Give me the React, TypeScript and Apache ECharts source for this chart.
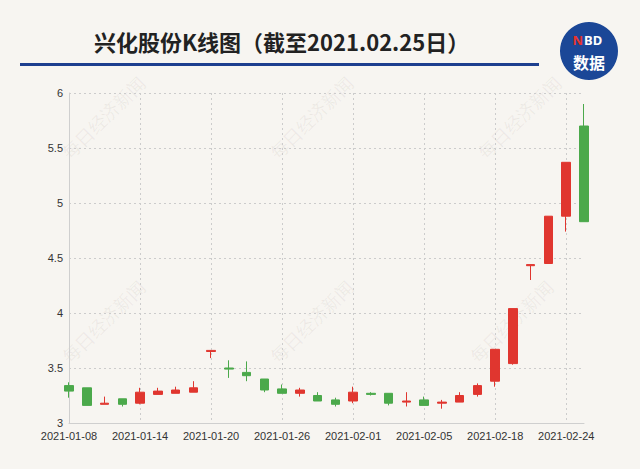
import React, { useEffect, useRef } from "react";
import * as echarts from "echarts";

const dates = [
  "2021-01-08", "2021-01-11", "2021-01-12", "2021-01-13", "2021-01-14", "2021-01-15",
  "2021-01-18", "2021-01-19", "2021-01-20", "2021-01-21", "2021-01-22", "2021-01-25",
  "2021-01-26", "2021-01-27", "2021-01-28", "2021-01-29", "2021-02-01", "2021-02-02",
  "2021-02-03", "2021-02-04", "2021-02-05", "2021-02-08", "2021-02-09", "2021-02-10",
  "2021-02-18", "2021-02-19", "2021-02-22", "2021-02-23", "2021-02-24", "2021-02-25",
];
const openValues = [3.34, 3.32, 3.17, 3.22, 3.18, 3.26, 3.27, 3.28, 3.65, 3.5, 3.46, 3.4, 3.31, 3.27, 3.25, 3.21, 3.2, 3.27, 3.27, 3.19, 3.21, 3.18, 3.19, 3.26, 3.38, 3.54, 4.43, 4.45, 4.88, 5.7];
const closeValues = [3.29, 3.16, 3.18, 3.17, 3.28, 3.29, 3.3, 3.32, 3.66, 3.49, 3.43, 3.3, 3.27, 3.3, 3.2, 3.17, 3.28, 3.26, 3.18, 3.2, 3.16, 3.19, 3.25, 3.34, 3.67, 4.04, 4.44, 4.88, 5.37, 4.83];
const lowValues = [3.23, 3.16, 3.17, 3.15, 3.17, 3.26, 3.27, 3.28, 3.59, 3.41, 3.38, 3.28, 3.27, 3.24, 3.2, 3.15, 3.18, 3.25, 3.16, 3.15, 3.16, 3.13, 3.19, 3.24, 3.33, 3.53, 4.3, 4.45, 4.74, 4.83];
const highValues = [3.37, 3.32, 3.24, 3.22, 3.32, 3.32, 3.33, 3.38, 3.66, 3.57, 3.56, 3.4, 3.35, 3.32, 3.28, 3.23, 3.33, 3.28, 3.27, 3.28, 3.24, 3.21, 3.28, 3.36, 3.67, 4.04, 4.44, 4.88, 5.37, 5.9];

const titleText = "兴化股份K线图（截至2021.02.25日）";
const watermarkText = "每日经济新闻";

const UP = "#e0362f";
const DOWN = "#4ba94b";

export default function App() {
  const ref = useRef<HTMLDivElement>(null);
  useEffect(() => {
    document.body.style.margin = "0";
    const chart = echarts.init(ref.current!, null, { renderer: "svg" });
    const kdata = dates.map((_, i) => [openValues[i], closeValues[i], lowValues[i], highValues[i]]);
    const wmPos = [
      [104, 118], [312, 118], [520, 118],
      [104, 322], [312, 322], [512, 322],
    ];
    const watermarks = wmPos.map(([x, y]) => ({
      type: "text",
      x,
      y,
      rotation: Math.PI / 4,
      z: -1,
      style: {
        text: watermarkText,
        fill: "rgba(120,110,100,0.09)",
        font: "18px serif",
        align: "center",
        verticalAlign: "middle",
      },
    }));
    chart.setOption({
      animation: false,
      backgroundColor: "#f7f5f1",
      grid: { left: 69, right: 56, top: 93, bottom: 46 },
      xAxis: {
        type: "category",
        data: dates,
        boundaryGap: false,
        axisLine: { show: true, lineStyle: { color: "#cfcfcf" } },
        axisTick: { show: false },
        axisLabel: { interval: 3, color: "#333", fontSize: 11, fontFamily: "Liberation Sans, Arial, sans-serif", margin: 7 },
        splitLine: { show: true, interval: 3, lineStyle: { color: "#cccccc", type: [2, 3], width: 1 } },
      },
      yAxis: {
        type: "value",
        min: 3,
        max: 6,
        interval: 0.5,
        axisLine: { show: true, lineStyle: { color: "#cfcfcf" } },
        axisTick: { show: false },
        axisLabel: { color: "#333", fontSize: 11, fontFamily: "Liberation Sans, Arial, sans-serif", margin: 6 },
        splitLine: { show: true, lineStyle: { color: "#cccccc", type: [2, 3], width: 1 } },
      },
      graphic: [
        ...watermarks,
        {
          type: "text",
          x: 94,
          y: 41,
          style: {
            text: titleText,
            fill: "#222",
            font: "bold 22px 'Noto Sans CJK SC', sans-serif",
            verticalAlign: "middle",
          },
        },
        {
          type: "rect",
          shape: { x: 20, y: 63, width: 519, height: 3 },
          style: { fill: "#1d3f8f" },
        },
        {
          type: "circle",
          shape: { cx: 589, cy: 51, r: 29 },
          style: { fill: "#1b4797" },
        },
        {
          type: "text",
          x: 583,
          y: 40,
          style: {
            text: "N",
            fill: "#e8332b",
            font: "bold 13px 'Noto Sans', sans-serif",
            lineHeight: 13,
            align: "right",
            verticalAlign: "middle",
          },
        },
        {
          type: "text",
          x: 584,
          y: 40,
          style: {
            text: "BD",
            fill: "#ffffff",
            font: "bold 13px 'Noto Sans', sans-serif",
            lineHeight: 13,
            align: "left",
            verticalAlign: "middle",
          },
        },
        {
          type: "text",
          x: 589,
          y: 62,
          style: {
            text: "数据",
            fill: "#ffffff",
            font: "bold 16px 'Noto Sans CJK SC', sans-serif",
            lineHeight: 16,
            align: "center",
            verticalAlign: "middle",
          },
        },
      ],
      series: [
        {
          type: "candlestick",
          data: kdata,
          barWidth: 9,
          itemStyle: {
            color: UP,
            color0: DOWN,
            borderColor: UP,
            borderColor0: DOWN,
            borderWidth: 1,
          },
        },
      ],
    });
    return () => chart.dispose();
  }, []);
  return <div ref={ref} style={{ width: 640, height: 469 }} />;
}
